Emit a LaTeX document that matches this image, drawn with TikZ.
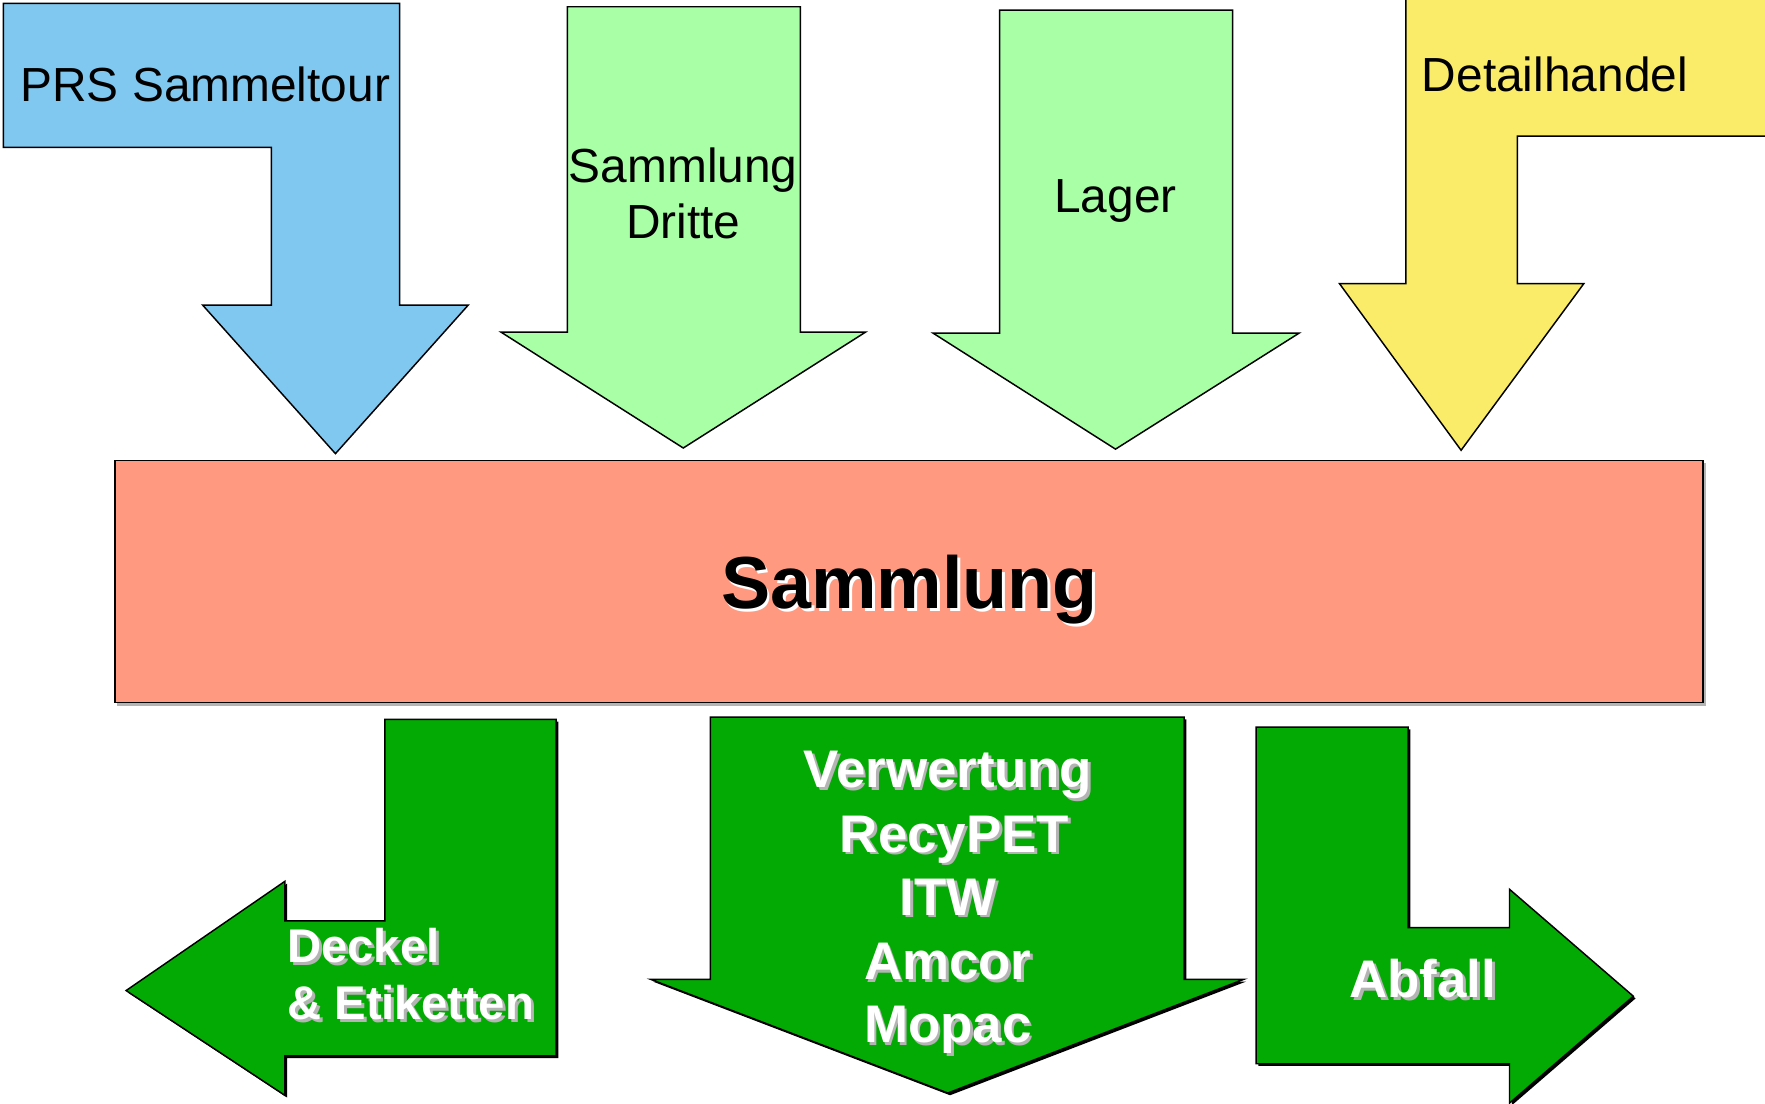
\documentclass[tikz,border=0pt]{standalone}
\usepackage{fontspec}
\setmainfont{Liberation Sans}
\definecolor{cblue}{RGB}{128,200,240}
\definecolor{clgreen}{RGB}{168,255,166}
\definecolor{cyellow}{RGB}{250,236,104}
\definecolor{csalmon}{RGB}{255,153,128}
\definecolor{cdgreen}{RGB}{4,170,4}
\definecolor{cshadow}{RGB}{180,180,180}
\tikzset{
  arrowshape/.style={draw=black,line width=1.3pt,line join=miter},
  lbl/.style={inner sep=0pt,font=\fontsize{42.5}{50}\selectfont},
  wlbl/.style={inner sep=0pt,font=\fontsize{47}{56}\selectfont\bfseries,text=white},
  wlbls/.style={inner sep=0pt,font=\fontsize{47}{56}\selectfont\bfseries,text=cshadow},
  dlbl/.style={inner sep=0pt,font=\fontsize{42}{51}\selectfont\bfseries,text=white},
  dlbls/.style={inner sep=0pt,font=\fontsize{42}{51}\selectfont\bfseries,text=cshadow},
}
\begin{document}
\begin{tikzpicture}[x=1pt,y=-1pt]
\useasboundingbox (0,0) rectangle (1568,980);
\clip (0,0) rectangle (1568,980);
% blue L-arrow
\draw[arrowshape,fill=cblue] (3,3) -- (355,3) -- (355,271) -- (416,271) -- (298,403) -- (180,271) -- (241,271) -- (241,131) -- (3,131) -- cycle;
\node[lbl,anchor=base west] (prs) at (18,90) {PRS Sammeltour};
% Sammlung Dritte
\draw[arrowshape,fill=clgreen] (504,6) -- (711,6) -- (711,295) -- (769,295) -- (607,398) -- (445,295) -- (504,295) -- cycle;
\node[lbl,anchor=base] (dritteA) at (607,162) {Sammlung};
\node[lbl,anchor=base] (dritteB) at (607,212) {Dritte};
% Lager
\draw[arrowshape,fill=clgreen] (888,9) -- (1095,9) -- (1095,296) -- (1154,296) -- (991,399) -- (829,296) -- (888,296) -- cycle;
\node[lbl,anchor=base] (lager) at (991,189) {Lager};
% Detailhandel
\draw[arrowshape,fill=cyellow] (1249,-5) -- (1580,-5) -- (1580,121) -- (1348,121) -- (1348,252) -- (1407,252) -- (1298,400) -- (1190,252) -- (1249,252) -- cycle;
\node[lbl,anchor=base west] (detail) at (1263,81) {Detailhandel};
% Sammlung box
\fill[cshadow] (104,411) rectangle (1516,627);
\draw[arrowshape,fill=csalmon] (102,409) rectangle (1513,624);
\node[inner sep=0pt,anchor=base,font=\fontsize{65.5}{70}\selectfont\bfseries,text=white] (sammlungs) at (810.5,543.5) {Sammlung};
\node[inner sep=0pt,anchor=base,font=\fontsize{65.5}{70}\selectfont\bfseries] (sammlung) at (808,541) {Sammlung};
% Deckel & Etiketten
\fill[black] (344,641) -- (496,641) -- (496,940) -- (255,940) -- (255,975) -- (114,882) -- (255,785) -- (255,820) -- (344,820) -- cycle;
\draw[arrowshape,fill=cdgreen] (342,639) -- (494,639) -- (494,938) -- (253,938) -- (253,973) -- (112,880) -- (253,783) -- (253,818) -- (342,818) -- cycle;
\node[dlbls,anchor=base west] (deckelAs) at (257.5,857.5) {Deckel};
\node[dlbl,anchor=base west] (deckelA) at (255,855) {Deckel};
\node[dlbls,anchor=base west] (deckelBs) at (257.5,908.5) {\& Etiketten};
\node[dlbl,anchor=base west] (deckelB) at (255,906) {\& Etiketten};
% Verwertung
\fill[black] (633,639) -- (1054,639) -- (1054,872) -- (1107,872) -- (844,973) -- (580,872) -- (633,872) -- cycle;
\draw[arrowshape,fill=cdgreen] (631,637) -- (1052,637) -- (1052,870) -- (1105,870) -- (842,971) -- (578,870) -- (631,870) -- cycle;
\node[wlbls,anchor=base] (v1s) at (844.5,702.5) {Verwertung};
\node[wlbl,anchor=base] (v1) at (842,700) {Verwertung};
\node[wlbls,anchor=base] (v2s) at (850.5,759.5) {RecyPET};
\node[wlbl,anchor=base] (v2) at (848,757) {RecyPET};
\node[wlbls,anchor=base] (v3s) at (844.5,815.5) {ITW};
\node[wlbl,anchor=base] (v3) at (842,813) {ITW};
\node[wlbls,anchor=base] (v4s) at (844.5,872.5) {Amcor};
\node[wlbl,anchor=base] (v4) at (842,870) {Amcor};
\node[wlbls,anchor=base] (v5s) at (844.5,928.5) {Mopac};
\node[wlbl,anchor=base] (v5) at (842,926) {Mopac};
% Abfall
\fill[black] (1118,648) -- (1253,648) -- (1253,826) -- (1343,826) -- (1343,792) -- (1453,887) -- (1343,982) -- (1343,947) -- (1118,947) -- cycle;
\draw[arrowshape,fill=cdgreen] (1116,646) -- (1251,646) -- (1251,824) -- (1341,824) -- (1341,790) -- (1451,885) -- (1341,980) -- (1341,945) -- (1116,945) -- cycle;
\node[wlbls,anchor=base] (abfalls) at (1266.5,888.5) {Abfall};
\node[wlbl,anchor=base] (abfall) at (1264,886) {Abfall};
\end{tikzpicture}
\end{document}
